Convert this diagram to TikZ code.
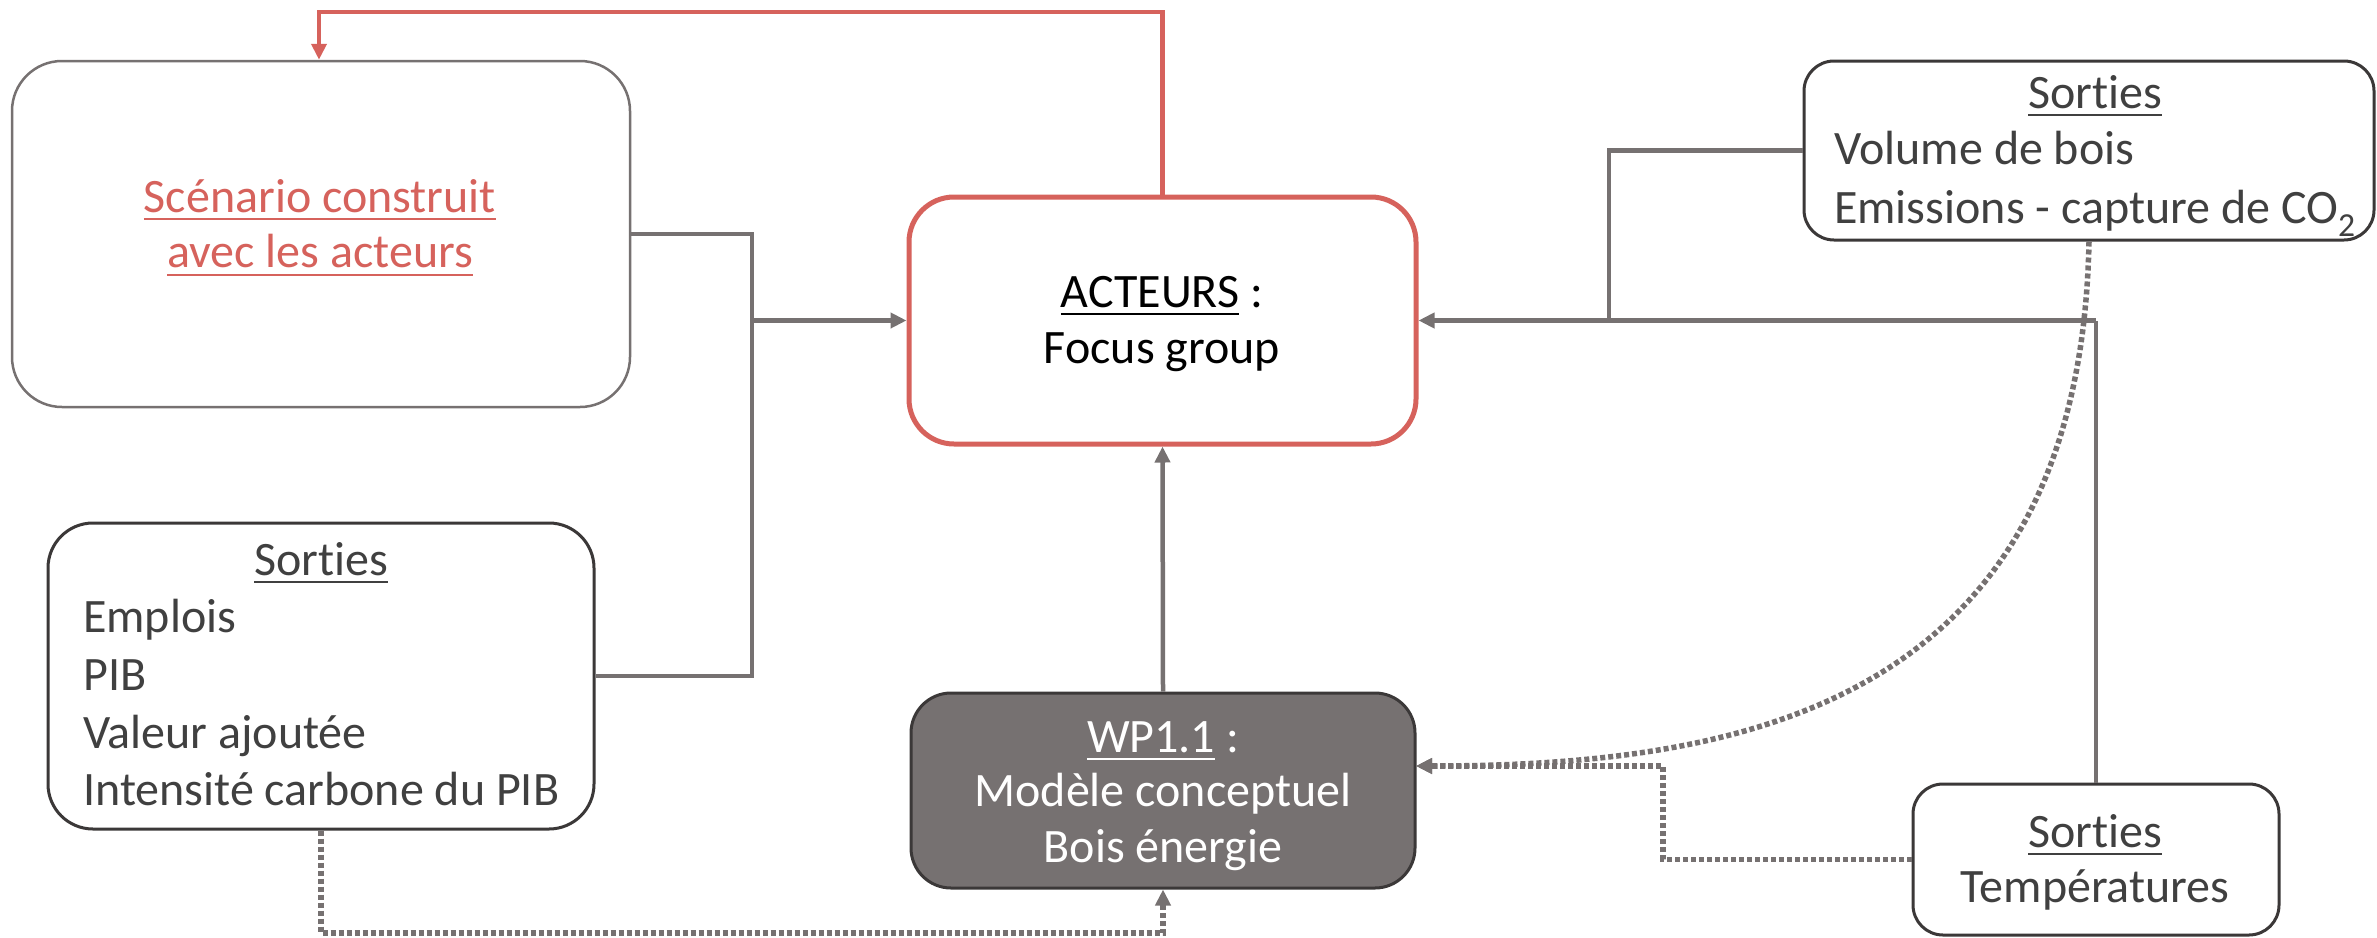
\documentclass[tikz,border=0pt]{standalone}
\usepackage{fontspec}
\setmainfont{Carlito}[Ligatures=NoCommon]
\usetikzlibrary{arrows.meta}
\definecolor{redc}{HTML}{D6625C}
\definecolor{grayc}{HTML}{767171}
\definecolor{darkc}{HTML}{3B3838}
\definecolor{txtc}{HTML}{404040}
\newcommand\myul[2][-8pt]{\setbox0\hbox{#2}\rlap{\rule[#1]{\wd0}{2.5pt}}\box0\relax}
\tikzset{
  box/.style={draw, inner sep=0pt, fill=white},
  txt/.style={inner sep=0pt, font=\fontsize{48}{57}\selectfont, text=txtc},
  gline/.style={draw=grayc, line width=4.5pt},
  garrow/.style={gline, -{Triangle[length=16pt,width=15pt]}},
  dline/.style={draw=grayc, line width=5.5pt, dash pattern=on 5pt off 3pt, -{Triangle[length=16pt,width=15pt]}},
  rarrow/.style={draw=redc, line width=4.5pt, -{Triangle[length=16pt,width=15pt]}}
}
\begin{document}
\begin{tikzpicture}[x=1pt,y=-1pt]
\useasboundingbox (0,0) rectangle (2377,937);
% boxes
\node[box, draw=grayc, line width=2.5pt, rounded corners=50pt, minimum width=618pt, minimum height=346pt] (sc) at (321,234) {};
\node[box, draw=redc, line width=5pt, rounded corners=45pt, minimum width=507pt, minimum height=247pt] (ac) at (1162.5,320.5) {};
\node[box, draw=darkc, fill=grayc, line width=3pt, rounded corners=40pt, minimum width=504pt, minimum height=195pt] (wp) at (1163,790.5) {};
\node[box, draw=darkc, line width=3pt, rounded corners=45pt, minimum width=546pt, minimum height=306pt] (so1) at (321,676) {};
\node[box, draw=darkc, line width=3pt, rounded corners=30pt, minimum width=570pt, minimum height=179pt] (so2) at (2089,150.5) {};
\node[box, draw=darkc, line width=3pt, rounded corners=30pt, minimum width=366pt, minimum height=151pt] (so3) at (2096,859.5) {};
% texts
\node[txt, text=redc, anchor=base] (sc1) at (320,212) {\myul{Scénario construit}};
\node[txt, text=redc, anchor=base] (sc2) at (320,267) {\myul[-9pt]{avec les acteurs}};
\node[txt, text=black, anchor=base] (ac1) at (1162,307) {\myul{ACTEURS} :};
\node[txt, text=black, anchor=base] (ac2) at (1162,363) {Focus group};
\node[txt, text=white, anchor=base] (wp1) at (1163,752) {\myul{WP1.1} :};
\node[txt, text=white, anchor=base] (wp2) at (1163,806) {Modèle conceptuel};
\node[txt, text=white, anchor=base] (wp3) at (1163,862) {Bois énergie};
\node[txt, anchor=base] (s1h) at (321,575) {\myul{Sorties}};
\node[txt, anchor=base west] (s1a) at (83,632) {Emplois};
\node[txt, anchor=base west] (s1b) at (83,690) {PIB};
\node[txt, anchor=base west] (s1c) at (83,748) {Valeur ajoutée};
\node[txt, anchor=base west] (s1d) at (83,805) {Intensité carbone du PIB};
\node[txt, anchor=base] (s2h) at (2095,108) {\myul{Sorties}};
\node[txt, anchor=base west] (s2a) at (1834,164) {Volume de bois};
\node[txt, anchor=base west] (s2b) at (1834,223) {Emissions - capture de CO\textsubscript{2}};
\node[txt, anchor=base] (s3h) at (2095,847) {\myul{Sorties}};
\node[txt, anchor=base] (s3a) at (2095,902) {Températures};
% coordinates
\coordinate (j1) at (752,320.5);
\coordinate (j2) at (1609,320.5);
\coordinate (j3) at (2096,320.5);
\coordinate (r1) at (1162.5,12);
\coordinate (r2) at (319,12);
\coordinate (d1) at (1163,933);
\coordinate (d2) at (1663,766);
\coordinate (d3) at (1416,766);
% connectors
\draw[gline] (sc.east) -- (sc.east -| j1) -- (so1.east -| j1) -- (so1.east);
\draw[garrow] (j1) -- (ac.west);
\draw[gline] (so2.west) -- (so2.west -| j2) -- (j2);
\draw[gline] (so3.north) -- (j3);
\draw[garrow] (j3) -- (ac.east);
\draw[garrow] (wp.north) -- (ac.south);
\draw[rarrow] (ac.north) -- (r1) -- (r2) -- (r2 |- sc.north);
\draw[dline] (so1.south) |- (d1) -- (wp.south);
\draw[dline] (so3.west) -| (d2) -- (d3);
\draw[dline] (so2.south) .. controls (2080,700) and (1750,766) .. (d3);
\end{tikzpicture}
\end{document}
